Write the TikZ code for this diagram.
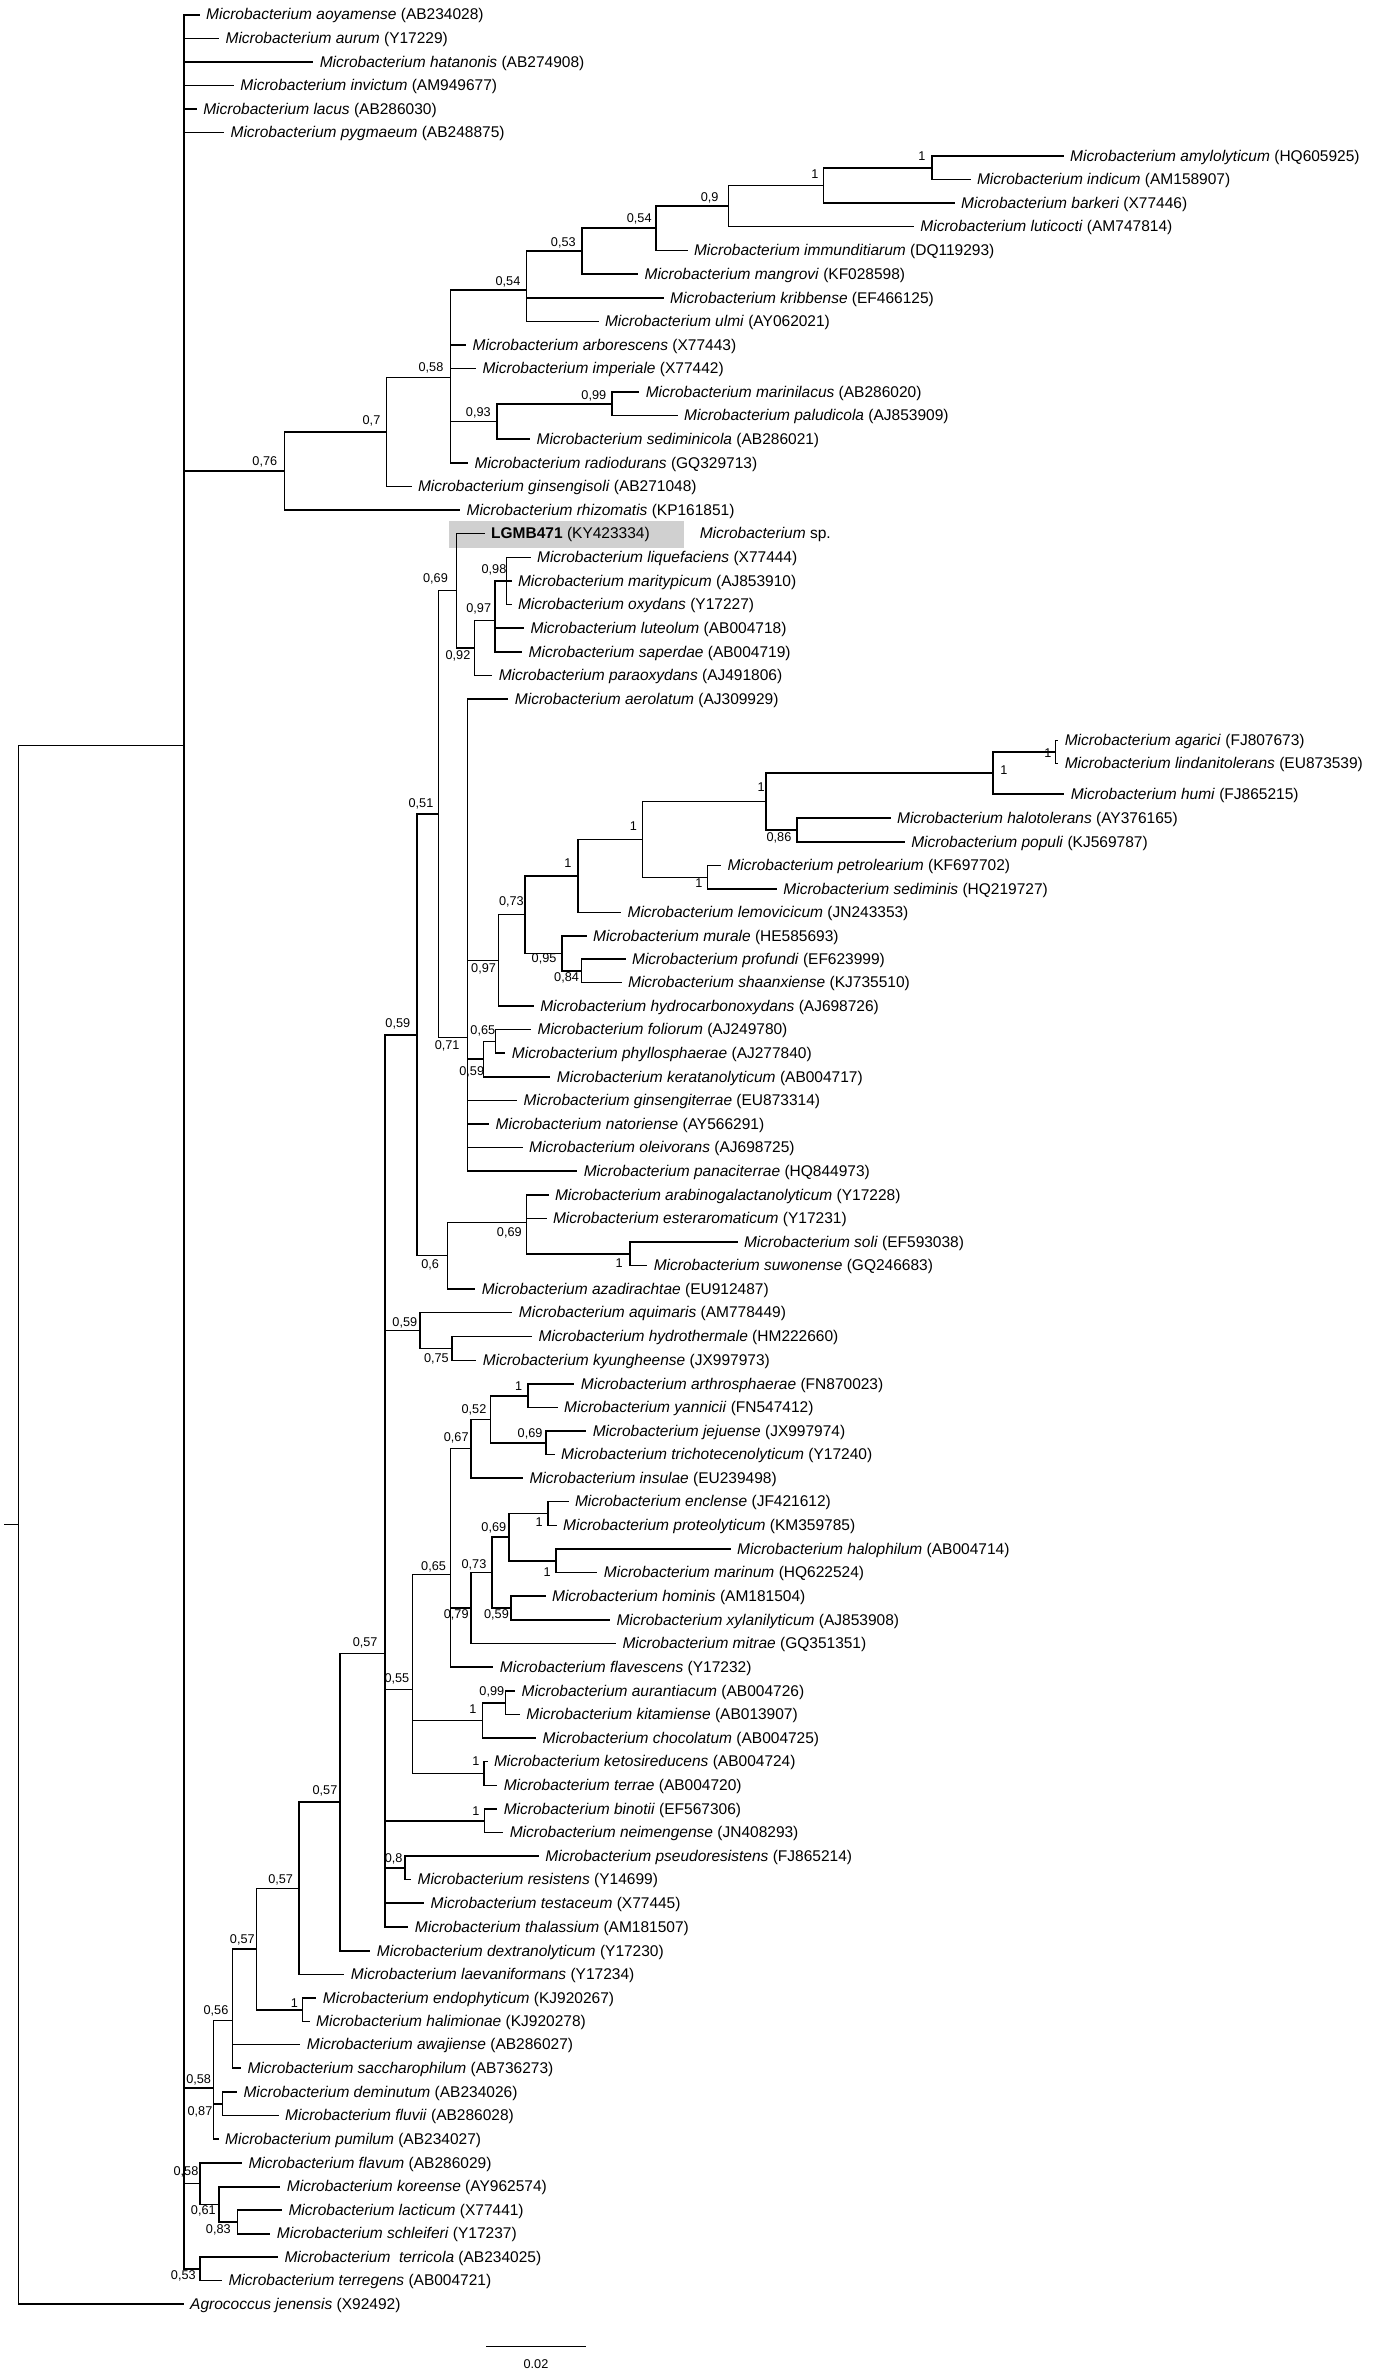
\documentclass[tikz,border=0pt]{standalone}
\usepackage{fontspec}
\setmainfont{Liberation Sans}
\definecolor{boxgray}{RGB}{208,208,208}
\newcommand\leaffont{\fontsize{15.5pt}{18pt}\selectfont}
\newcommand\bsfont{\fontsize{12.7pt}{14pt}\selectfont}
\tikzset{
  br/.style={line width=1.5pt, line cap=rect},
  leaf/.style={anchor=west, inner sep=0pt, text height=13pt, text depth=3pt, font=\leaffont},
  bs/.style={inner sep=0pt, font=\bsfont},
}
% leaf: name, parent, y, text x, species, accession
\newcommand\lf[6]{%
  \coordinate (#1e) at ({#4-7},#3);
  \node[leaf] (#1) at (#4,#3) {\textit{Microbacterium #5} (#6)};
  \draw[br] (#2) |- (#1e);}
\newcommand\bsl[4]{\node[bs] (#1) at (#2,#3) {#4};}
\begin{document}
\begin{tikzpicture}[x=1pt,y=-1pt]
\fill[white] (0,0) rectangle (1373,2374);
\useasboundingbox (0,0) rectangle (1373,2374);
% ---------- internal nodes ----------
\coordinate (rs) at (5,1524.7);
\coordinate (R) at (18.3,1524.7);
\coordinate (M) at (183.8,745.4);
\coordinate (n076) at (284.6,471.0);
\coordinate (n07) at (386.6,432.05);
\coordinate (n058t) at (450.6,377.6);
\coordinate (n054l) at (526.5,290.2);
\coordinate (n053) at (581.9,251.11);
\coordinate (n054u) at (656.2,228.22);
\coordinate (n09) at (728.7,205.94);
\coordinate (n1b) at (823.6,185.375);
\coordinate (n1a) at (931.8,167.75);
\coordinate (n093) at (496.9,421.375);
\coordinate (n099) at (612,403.75);
\coordinate (n069) at (456.5,590.7);
\coordinate (n092) at (474.5,647.9);
\coordinate (n097a) at (494.8,620.33);
\coordinate (n098) at (506.3,581);
\coordinate (n051) at (438.3,814.0);
\coordinate (n071) at (467.3,1037.35);
\coordinate (n097b) at (498.5,960.35);
\coordinate (n073a) at (525,914.7);
\coordinate (n1ha) at (578,875.95);
\coordinate (n1hb) at (642.3,839.4);
\coordinate (n1hc) at (766,801.5);
\coordinate (n1he) at (993.2,773);
\coordinate (n1hf) at (1055.7,752);
\coordinate (n086) at (797,830);
\coordinate (n1hd) at (707.7,877.25);
\coordinate (n095) at (562,953.4);
\coordinate (n084) at (581.7,970.75);
\coordinate (n059f) at (483.6,1059.1);
\coordinate (n065f) at (495.5,1041.25);
\coordinate (n059L) at (417,1034.85);
\coordinate (n06) at (447.3,1255.7);
\coordinate (n069b) at (526.3,1222.4);
\coordinate (n1soli) at (629.9,1253.75);
\coordinate (n057a) at (385,1653.3);
\coordinate (n059aq) at (419.8,1330.5);
\coordinate (n075) at (452.2,1348.5);
\coordinate (n055) at (412.7,1689.5);
\coordinate (n065) at (450.3,1574.5);
\coordinate (n067) at (470.8,1448.6);
\coordinate (n052) at (490.6,1419.25);
\coordinate (n1arth) at (528.2,1395.75);
\coordinate (n069c) at (545.9,1442.75);
\coordinate (n079) at (470.8,1608.0);
\coordinate (n073b) at (491.8,1572.55);
\coordinate (n069d) at (508.8,1537.1);
\coordinate (n1encl) at (547.9,1513.5);
\coordinate (n1halo) at (556.2,1560.75);
\coordinate (n059c) at (510.8,1608);
\coordinate (n1aur) at (482.7,1720.4);
\coordinate (n099b) at (505.6,1702.75);
\coordinate (n1keto) at (483.9,1773.5);
\coordinate (n1bin) at (484.7,1820.75);
\coordinate (n08) at (404.8,1867.75);
\coordinate (n057b) at (340,1802.15);
\coordinate (n057c) at (299,1888.3);
\coordinate (n057d) at (256.7,1949.0);
\coordinate (n1endo) at (302.3,2009.75);
\coordinate (n056) at (232.3,2020.5);
\coordinate (n058b) at (213.3,2087.75);
\coordinate (n087) at (222.7,2103.75);
\coordinate (n058f) at (200,2183.7);
\coordinate (n061) at (219,2204.35);
\coordinate (n083) at (237.7,2221.9);
\coordinate (n053b) at (200,2268.85);
% ---------- highlight box ----------
\node[fill=boxgray, minimum width=234.6pt, minimum height=26.6pt, inner sep=0pt, anchor=north west] (hl) at (448.9,520.7) {};
% ---------- internal branches ----------
\draw[br] (rs) -- (R);
\foreach \p/\c in {R/M, M/n076, M/n058b, M/n058f, M/n053b,
  n076/n07, n07/n058t, n058t/n054l, n058t/n093, n054l/n053, n053/n054u, n054u/n09, n09/n1b, n1b/n1a, n093/n099,
  n058b/n056, n058b/n087, n056/n057d, n057d/n057c, n057d/n1endo, n057c/n057b, n057b/n057a,
  n057a/n059L, n057a/n059aq, n057a/n055, n057a/n1bin, n057a/n08,
  n059L/n051, n059L/n06, n051/n069, n051/n071, n069/n092, n092/n097a, n097a/n098,
  n071/n097b, n071/n059f, n097b/n073a, n073a/n1ha, n073a/n095, n1ha/n1hb, n1hb/n1hc, n1hb/n1hd,
  n1hc/n1he, n1hc/n086, n1he/n1hf, n095/n084, n059f/n065f, n06/n069b, n069b/n1soli,
  n059aq/n075, n055/n065, n055/n1aur, n055/n1keto, n065/n067, n065/n079, n067/n052, n052/n1arth, n052/n069c,
  n079/n073b, n073b/n069d, n073b/n059c, n069d/n1encl, n069d/n1halo, n1aur/n099b,
  n058f/n061, n061/n083}
  {\draw[br] (\p) |- (\c);}
% ---------- leaves ----------
\lf{L01}{M}{15}{206}{aoyamense}{AB234028}
\lf{L02}{M}{38.5}{225.4}{aurum}{Y17229}
\lf{L03}{M}{62}{319.6}{hatanonis}{AB274908}
\lf{L04}{M}{85.5}{240.2}{invictum}{AM949677}
\lf{L05}{M}{109}{203.1}{lacus}{AB286030}
\lf{L06}{M}{132.5}{230.4}{pygmaeum}{AB248875}
\lf{L07}{n1a}{156}{1070}{amylolyticum}{HQ605925}
\lf{L08}{n1a}{179.5}{976.8}{indicum}{AM158907}
\lf{L09}{n1b}{203}{961}{barkeri}{X77446}
\lf{L10}{n09}{226.5}{920.2}{luticocti}{AM747814}
\lf{L11}{n054u}{250.5}{693.8}{immunditiarum}{DQ119293}
\lf{L12}{n053}{274}{644.4}{mangrovi}{KF028598}
\lf{L13}{n054l}{298}{670}{kribbense}{EF466125}
\lf{L14}{n054l}{321.5}{604.8}{ulmi}{AY062021}
\lf{L15}{n058t}{345}{472.4}{arborescens}{X77443}
\lf{L16}{n058t}{368.5}{482.3}{imperiale}{X77442}
\lf{L17}{n099}{392}{645.6}{marinilacus}{AB286020}
\lf{L18}{n099}{415.5}{683.9}{paludicola}{AJ853909}
\lf{L19}{n093}{439}{536.4}{sediminicola}{AB286021}
\lf{L20}{n058t}{463}{474.4}{radiodurans}{GQ329713}
\lf{L21}{n07}{486.5}{417.8}{ginsengisoli}{AB271048}
\lf{L22}{n076}{510}{466.4}{rhizomatis}{KP161851}
% LGMB471
\coordinate (L23e) at (484,533.5);
\node[leaf] (L23) at (491,533.5) {\textbf{LGMB471} (KY423334)};
\draw[br] (n069) |- (L23e);
\node[leaf] (sp) at (699.6,533.5) {\textit{Microbacterium} sp.};
\lf{L24}{n098}{557.5}{536.9}{liquefaciens}{X77444}
\lf{L25}{n098}{581}{517.8}{maritypicum}{AJ853910}
\lf{L26}{n098}{604.5}{517.8}{oxydans}{Y17227}
\lf{L27}{n097a}{628}{530.4}{luteolum}{AB004718}
\lf{L28}{n097a}{652}{528.5}{saperdae}{AB004719}
\lf{L29}{n092}{675.5}{498.6}{paraoxydans}{AJ491806}
\lf{L30}{n071}{699}{514.7}{aerolatum}{AJ309929}
\lf{L31}{n1hf}{740.5}{1064.6}{agarici}{FJ807673}
\lf{L32}{n1hf}{763.5}{1064.6}{lindanitolerans}{EU873539}
\lf{L33}{n1he}{794}{1070.6}{humi}{FJ865215}
\lf{L34}{n086}{818}{896.9}{halotolerans}{AY376165}
\lf{L35}{n086}{842}{911.1}{populi}{KJ569787}
\lf{L36}{n1hd}{865.5}{727.3}{petrolearium}{KF697702}
\lf{L37}{n1hd}{889}{783.2}{sediminis}{HQ219727}
\lf{L38}{n1ha}{912.5}{627.4}{lemovicicum}{JN243353}
\lf{L39}{n095}{936}{592.9}{murale}{HE585693}
\lf{L40}{n084}{959}{631.9}{profundi}{EF623999}
\lf{L41}{n084}{982.5}{627.9}{shaanxiense}{KJ735510}
\lf{L42}{n097b}{1006}{540.1}{hydrocarbonoxydans}{AJ698726}
\lf{L43}{n065f}{1029.5}{537.4}{foliorum}{AJ249780}
\lf{L44}{n065f}{1053}{511.7}{phyllosphaerae}{AJ277840}
\lf{L45}{n059f}{1077}{556.7}{keratanolyticum}{AB004717}
\lf{L46}{n071}{1100.5}{523.5}{ginsengiterrae}{EU873314}
\lf{L47}{n071}{1124}{495.5}{natoriense}{AY566291}
\lf{L48}{n071}{1147.5}{529}{oleivorans}{AJ698725}
\lf{L49}{n071}{1171}{583.6}{panaciterrae}{HQ844973}
\lf{L50}{n069b}{1195}{554.8}{arabinogalactanolyticum}{Y17228}
\lf{L51}{n069b}{1218.5}{552.8}{esteraromaticum}{Y17231}
\lf{L52}{n1soli}{1242}{743.8}{soli}{EF593038}
\lf{L53}{n1soli}{1265.5}{653.6}{suwonense}{GQ246683}
\lf{L54}{n06}{1289}{481.6}{azadirachtae}{EU912487}
\lf{L55}{n059aq}{1312.5}{518.7}{aquimaris}{AM778449}
\lf{L56}{n075}{1336.5}{538.4}{hydrothermale}{HM222660}
\lf{L57}{n075}{1360.5}{482.7}{kyungheense}{JX997973}
\lf{L58}{n1arth}{1384}{580.7}{arthrosphaerae}{FN870023}
\lf{L59}{n1arth}{1407.5}{564}{yannicii}{FN547412}
\lf{L60}{n069c}{1431}{592.6}{jejuense}{JX997974}
\lf{L61}{n069c}{1454.5}{561}{trichotecenolyticum}{Y17240}
\lf{L62}{n067}{1478}{529.3}{insulae}{EU239498}
\lf{L63}{n1encl}{1501.5}{574.8}{enclense}{JF421612}
\lf{L64}{n1encl}{1525.5}{563}{proteolyticum}{KM359785}
\lf{L65}{n1halo}{1549}{737}{halophilum}{AB004714}
\lf{L66}{n1halo}{1572.5}{603.7}{marinum}{HQ622524}
\lf{L67}{n059c}{1596}{551.9}{hominis}{AM181504}
\lf{L68}{n059c}{1620}{616.3}{xylanilyticum}{AJ853908}
\lf{L69}{n079}{1643.5}{622.3}{mitrae}{GQ351351}
\lf{L70}{n065}{1667}{499.7}{flavescens}{Y17232}
\lf{L71}{n099b}{1691}{521.4}{aurantiacum}{AB004726}
\lf{L72}{n099b}{1714.5}{526.2}{kitamiense}{AB013907}
\lf{L73}{n1aur}{1738}{542.4}{chocolatum}{AB004725}
\lf{L74}{n1keto}{1761.5}{493.8}{ketosireducens}{AB004724}
\lf{L75}{n1keto}{1785.5}{503.6}{terrae}{AB004720}
\lf{L76}{n1bin}{1809}{503.6}{binotii}{EF567306}
\lf{L77}{n1bin}{1832.5}{509.6}{neimengense}{JN408293}
\lf{L78}{n08}{1856}{545.2}{pseudoresistens}{FJ865214}
\lf{L79}{n08}{1879.5}{417.4}{resistens}{Y14699}
\lf{L80}{n057a}{1903}{430.5}{testaceum}{X77445}
\lf{L81}{n057a}{1927}{414.7}{thalassium}{AM181507}
\lf{L82}{n057b}{1951}{376.7}{dextranolyticum}{Y17230}
\lf{L83}{n057c}{1974.5}{350.7}{laevaniformans}{Y17234}
\lf{L84}{n1endo}{1998}{322.7}{endophyticum}{KJ920267}
\lf{L85}{n1endo}{2021.5}{316}{halimionae}{KJ920278}
\lf{L86}{n056}{2044.6}{306.7}{awajiense}{AB286027}
\lf{L87}{n056}{2068}{247.3}{saccharophilum}{AB736273}
\lf{L88}{n087}{2092}{243.3}{deminutum}{AB234026}
\lf{L89}{n087}{2115.5}{285}{fluvii}{AB286028}
\lf{L90}{n058b}{2139}{225}{pumilum}{AB234027}
\lf{L91}{n058f}{2163}{248.3}{flavum}{AB286029}
\lf{L92}{n061}{2186.8}{286.7}{koreense}{AY962574}
\lf{L93}{n083}{2210}{288.3}{lacticum}{X77441}
\lf{L94}{n083}{2233.8}{276.7}{schleiferi}{Y17237}
\coordinate (L95e) at (277.3,2257);
\node[leaf] (L95) at (284.3,2257) {\textit{Microbacterium\ \ terricola} (AB234025)};
\draw[br] (n053b) |- (L95e);
\lf{L96}{n053b}{2280.7}{228.3}{terregens}{AB004721}
\coordinate (L97e) at (183,2304);
\node[leaf] (L97) at (190,2304) {\textit{Agrococcus jenensis} (X92492)};
\draw[br] (R) |- (L97e);
% ---------- support values ----------
\bsl{b01}{921.9}{156}{1}
\bsl{b02}{815}{174.3}{1}
\bsl{b03}{709.6}{197.7}{0,9}
\bsl{b04}{639.2}{219}{0,54}
\bsl{b05}{563.3}{242.7}{0,53}
\bsl{b06}{508}{281.7}{0,54}
\bsl{b07}{431}{368.3}{0,58}
\bsl{b08}{593.8}{396}{0,99}
\bsl{b09}{478.3}{413.3}{0,93}
\bsl{b10}{371.5}{421}{0,7}
\bsl{b11}{264.8}{461.7}{0,76}
\bsl{b12}{435.5}{579}{0,69}
\bsl{b13}{494}{570}{0,98}
\bsl{b14}{478.7}{609.3}{0,97}
\bsl{b15}{458}{656}{0,92}
\bsl{b16}{1048}{753.3}{1}
\bsl{b17}{1004}{770}{1}
\bsl{b18}{761.2}{787.3}{1}
\bsl{b19}{633.3}{826}{1}
\bsl{b20}{779}{838.3}{0,86}
\bsl{b21}{698.8}{883.3}{1}
\bsl{b22}{567.9}{863.3}{1}
\bsl{b23}{511.4}{901.7}{0,73}
\bsl{b24}{544.1}{959.3}{0,95}
\bsl{b25}{483.6}{969.3}{0,97}
\bsl{b26}{566.6}{977.7}{0,84}
\bsl{b27}{421}{804}{0,51}
\bsl{b28}{397.8}{1024.3}{0,59}
\bsl{b29}{482.8}{1030.7}{0,65}
\bsl{b30}{447.2}{1046}{0,71}
\bsl{b31}{471.7}{1071.7}{0,59}
\bsl{b32}{509.3}{1232.7}{0,69}
\bsl{b33}{619.2}{1263.3}{1}
\bsl{b34}{430.2}{1265}{0,6}
\bsl{b35}{404.8}{1322.7}{0,59}
\bsl{b36}{436.4}{1359.3}{0,75}
\bsl{b37}{518.7}{1386}{1}
\bsl{b38}{474}{1410}{0,52}
\bsl{b39}{530.1}{1434.3}{0,69}
\bsl{b40}{456.2}{1438.3}{0,67}
\bsl{b41}{539.2}{1521.7}{1}
\bsl{b42}{493.8}{1528.3}{0,69}
\bsl{b43}{433.6}{1566.7}{0,65}
\bsl{b44}{474}{1565}{0,73}
\bsl{b45}{547.1}{1571.7}{1}
\bsl{b46}{456.2}{1615}{0,79}
\bsl{b47}{496.5}{1615}{0,59}
\bsl{b48}{365.2}{1643.3}{0,57}
\bsl{b49}{396.9}{1679.3}{0,55}
\bsl{b50}{491.8}{1692.3}{0,99}
\bsl{b51}{472.8}{1709}{1}
\bsl{b52}{476}{1761}{1}
\bsl{b53}{325}{1790.5}{0,57}
\bsl{b54}{476}{1810.7}{1}
\bsl{b55}{393.7}{1859.3}{0,8}
\bsl{b56}{280.7}{1879.4}{0,57}
\bsl{b57}{242.3}{1940}{0,57}
\bsl{b58}{294.3}{2002.8}{1}
\bsl{b59}{216}{2010.6}{0,56}
\bsl{b60}{198.7}{2080.3}{0,58}
\bsl{b61}{200}{2111.6}{0,87}
\bsl{b62}{186}{2172.3}{0,58}
\bsl{b63}{203.3}{2211}{0,61}
\bsl{b64}{218.3}{2229.8}{0,83}
\bsl{b65}{183.3}{2276}{0,53}
% ---------- scale bar ----------
\coordinate (sb1) at (486.7,2346.7);
\coordinate (sb2) at (585,2346.7);
\draw[br] (sb1) -- (sb2);
\node[bs] (sbl) at (536,2364) {0.02};
\end{tikzpicture}
\end{document}
